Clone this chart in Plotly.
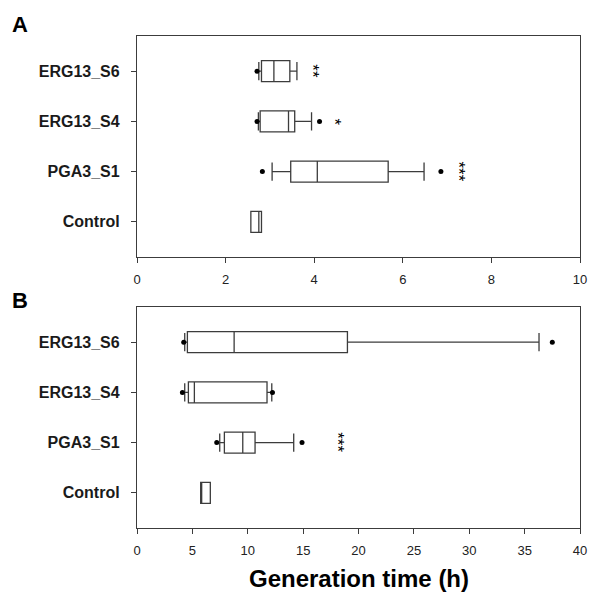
import plotly.graph_objects as go

categories = ["Control", "PGA3_S1", "ERG13_S4", "ERG13_S6"]

# Panel A
a_q1 = [2.57, 3.47, 2.78, 2.81]
a_median = [2.75, 4.07, 3.42, 3.09]
a_q3 = [2.81, 5.67, 3.56, 3.45]
a_low = [2.57, 3.05, 2.74, 2.75]
a_up = [2.81, 6.48, 3.94, 3.61]
a_out_x = [2.83, 6.86, 2.71, 4.12, 2.71]
a_out_y = ["PGA3_S1", "PGA3_S1", "ERG13_S4", "ERG13_S4", "ERG13_S6"]
a_star_x = [7.34, 4.56, 4.06]
a_star_y = ["PGA3_S1", "ERG13_S4", "ERG13_S6"]
a_star_t = ["***", "*", "**"]
a_ticks = [0, 2, 4, 6, 8, 10]

# Panel B
b_q1 = [5.75, 7.89, 4.64, 4.55]
b_median = [5.84, 9.55, 5.18, 8.77]
b_q3 = [6.62, 10.66, 11.74, 19.0]
b_low = [5.75, 7.47, 4.31, 4.31]
b_up = [6.62, 14.15, 12.17, 36.3]
b_out_x = [7.2, 14.9, 4.1, 12.23, 4.22, 37.5]
b_out_y = ["PGA3_S1", "PGA3_S1", "ERG13_S4", "ERG13_S4", "ERG13_S6", "ERG13_S6"]
b_star_x = [18.46]
b_star_y = ["PGA3_S1"]
b_star_t = ["***"]
b_ticks = [0, 5, 10, 15, 20, 25, 30, 35, 40]

FONT = "Arial, Liberation Sans, sans-serif"
LINE = "#3c3c3c"

W, H = 590, 592
L, R, T, B = 137, 10, 36, 64
PW, PH = W - L - R, H - T - B

def px_x(p):
    return (p - L) / PW

def px_y(p):
    return (H - B - p) / PH

fig = go.Figure()

def add_panel(q1, med, q3, lo, up, ox, oy, xa, ya):
    fig.add_trace(go.Box(
        y=categories, q1=q1, median=med, q3=q3, lowerfence=lo, upperfence=up,
        orientation="h", boxpoints=False, width=0.42, whiskerwidth=0.87,
        fillcolor="white", line=dict(color=LINE, width=1.3),
        xaxis=xa, yaxis=ya, showlegend=False, hoverinfo="skip"))
    fig.add_trace(go.Scatter(
        x=ox, y=oy, mode="markers", marker=dict(color="black", size=5),
        xaxis=xa, yaxis=ya, showlegend=False, hoverinfo="skip"))

add_panel(a_q1, a_median, a_q3, a_low, a_up, a_out_x, a_out_y, "x", "y")
add_panel(b_q1, b_median, b_q3, b_low, b_up, b_out_x, b_out_y, "x2", "y2")

for sx, sy, st in zip(a_star_x, a_star_y, a_star_t):
    fig.add_annotation(x=sx, y=sy, xref="x", yref="y", text=st, showarrow=False,
                       textangle=90, xshift=-4,
                       font=dict(family=FONT, size=17, color="black"))
for sx, sy, st in zip(b_star_x, b_star_y, b_star_t):
    fig.add_annotation(x=sx, y=sy, xref="x2", yref="y2", text=st, showarrow=False,
                       textangle=90, xshift=-4,
                       font=dict(family=FONT, size=17, color="black"))

xcommon = dict(showline=True, linecolor=LINE, linewidth=1.3, mirror=True,
               ticks="outside", ticklen=5, tickcolor=LINE, showgrid=False,
               zeroline=False, automargin=False, ticklabeloverflow="allow",
               ticklabelstandoff=5,
               tickfont=dict(family=FONT, size=13, color="#222"))
ycommon = dict(showline=True, linecolor=LINE, linewidth=1.3, mirror=True,
               ticks="outside", ticklen=5, tickcolor=LINE, showgrid=False,
               type="category", categoryorder="array", categoryarray=categories,
               range=[-0.7, 3.7], ticklabelstandoff=8, automargin=False,
               tickfont=dict(family=FONT, size=16, color="#1a1a1a", weight="bold"))

fig.update_layout(
    width=W, height=H, paper_bgcolor="white", plot_bgcolor="white",
    margin=dict(l=L, r=R, t=T, b=B),
    xaxis=dict(domain=[0, 1], anchor="y", range=[0, 10], tickvals=a_ticks, **xcommon),
    yaxis=dict(domain=[px_y(257), 1], anchor="x", **ycommon),
    xaxis2=dict(domain=[0, 1], anchor="y2", range=[0, 40], tickvals=b_ticks, **xcommon),
    yaxis2=dict(domain=[0, px_y(307)], anchor="x2", **ycommon),
)

fig.add_annotation(x=px_x(358.5), y=px_y(578), xref="paper", yref="paper",
                   text="<b>Generation time (h)</b>", showarrow=False,
                   xanchor="center", yanchor="middle",
                   font=dict(family=FONT, size=24, color="black"))
fig.add_annotation(x=px_x(20), y=px_y(25), xref="paper", yref="paper",
                   text="<b>A</b>", showarrow=False, xanchor="center", yanchor="middle",
                   font=dict(family=FONT, size=22, color="black"))
fig.add_annotation(x=px_x(20), y=px_y(300.5), xref="paper", yref="paper",
                   text="<b>B</b>", showarrow=False, xanchor="center", yanchor="middle",
                   font=dict(family=FONT, size=22, color="black"))

fig.write_html("out.html", config={"displayModeBar": False},
               post_script="document.body.style.margin='0';document.body.style.overflow='hidden';")
